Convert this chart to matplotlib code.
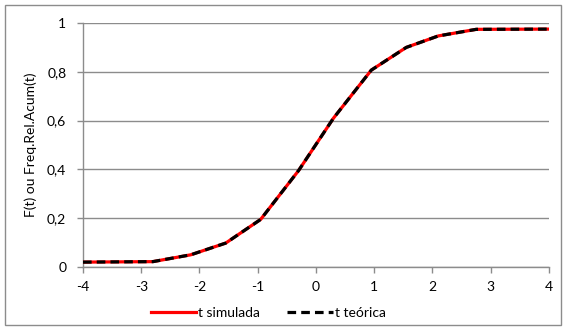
import matplotlib
matplotlib.use("Agg")
import matplotlib.pyplot as plt
from matplotlib.patches import Rectangle

# data
t_sim = [-4, -2.8, -2.15, -1.55, -0.95, -0.3, 0.3, 0.95, 1.55, 2.1, 2.75, 4]
f_sim = [0.02, 0.022, 0.05, 0.098, 0.195, 0.395, 0.61, 0.807, 0.90, 0.947, 0.974, 0.975]
t_teo = [-4, -2.8, -2.15, -1.55, -0.95, -0.3, 0.3, 0.95, 1.55, 2.1, 2.75, 4]
f_teo = [0.02, 0.022, 0.05, 0.098, 0.195, 0.395, 0.61, 0.807, 0.90, 0.947, 0.974, 0.975]
xticks = [-4, -3, -2, -1, 0, 1, 2, 3, 4]
yticks = [0, 0.2, 0.4, 0.6, 0.8, 1.0]
ylabels = ["0", "0,2", "0,4", "0,6", "0,8", "1"]

plt.rcParams['font.family'] = ['Lato', 'DejaVu Sans']

W, H = 567, 329
fig = plt.figure(figsize=(W / 100, H / 100), dpi=100)
ax = fig.add_axes([83 / W, 1 - 267 / H, (549 - 83) / W, (267 - 23) / H])

grid_c = "#8c8c8c"
ax.plot(t_sim, f_sim, color="#ff0000", lw=2.3, label="t simulada", zorder=3,
        solid_joinstyle="round")
ax.plot(t_teo, f_teo, color="black", lw=2.3, label="t teórica", zorder=4,
        dashes=(2.7, 1.6), dash_capstyle="butt")

ax.set_xlim(-4, 4)
ax.set_ylim(0, 1)
ax.set_xticks(xticks)
ax.set_xticklabels([str(x) for x in xticks])
ax.set_yticks(yticks)
ax.set_yticklabels(ylabels)
ax.yaxis.grid(True, color=grid_c, lw=1)
ax.set_axisbelow(True)
for s in ["top", "right"]:
    ax.spines[s].set_visible(False)
for s in ["left", "bottom"]:
    ax.spines[s].set_color(grid_c)
    ax.spines[s].set_linewidth(1)
ax.tick_params(axis="both", direction="out", length=4, color=grid_c,
               labelsize=10, labelcolor="black", width=1)
ax.tick_params(axis="x", pad=6)
ax.tick_params(axis="y", pad=8)
ax.set_ylabel("F(t) ou Freq.Rel.Acum(t)", fontsize=10, labelpad=7)

leg = fig.legend(loc="center", bbox_to_anchor=(268 / W, 1 - 313 / H), ncol=2,
                 frameon=False, fontsize=10, handlelength=3.3, columnspacing=2.0,
                 handletextpad=0.1)

fig.patches.append(Rectangle((5 / W, 4 / H), (561 - 5) / W, (324 - 4) / H,
                             transform=fig.transFigure, fill=False,
                             edgecolor="#8c8c8c", lw=1))

fig.savefig("out.png", dpi=100)
